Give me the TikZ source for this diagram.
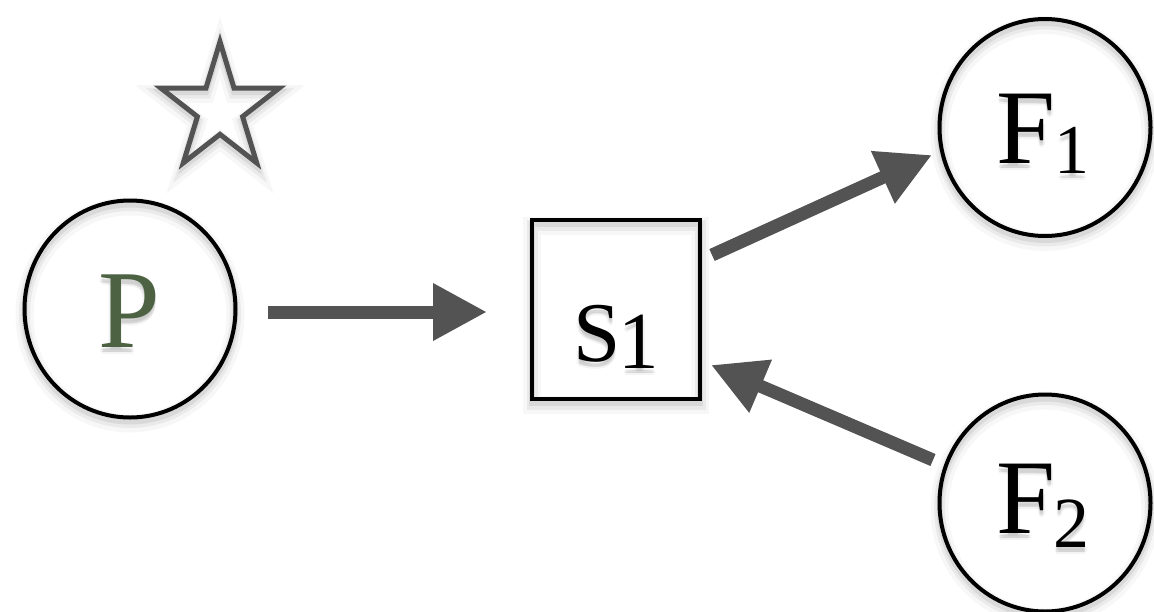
\documentclass[tikz,border=0pt]{standalone}
\usepackage{fontspec}
\setmainfont{Liberation Serif}
\usetikzlibrary{arrows.meta,shapes.geometric}

\definecolor{flowgray}{RGB}{83,83,83}
\definecolor{pgreen}{RGB}{76,98,66}

% soft drop shadow under a label: faint offset copies, then the label itself
\newcommand\haze[1]{%
  \makebox[0pt][l]{\pgfsetfillopacity{0.045}\color{black}%
    \makebox[0pt][l]{\raisebox{-3pt}{#1}}%
    \makebox[0pt][l]{\raisebox{-5pt}{#1}}%
    \makebox[0pt][l]{\raisebox{-7pt}{#1}}%
    \makebox[0pt][l]{\hspace*{-1.5pt}\raisebox{-5pt}{#1}}%
    \makebox[0pt][l]{\hspace*{1.5pt}\raisebox{-5pt}{#1}}%
    \pgfsetfillopacity{1}}%
  #1}

\tikzset{
  softshadow/.style={
    preaction={draw=black,draw opacity=0.03,line width=18pt,transform canvas={yshift=-6pt}},
    preaction={draw=black,draw opacity=0.05,line width=11pt,transform canvas={yshift=-5pt}},
    preaction={draw=black,draw opacity=0.07,line width=6pt,transform canvas={yshift=-4pt}}},
  ring/.style={ellipse,draw=black,line width=4pt,minimum width=211pt,minimum height=217pt,
    inner sep=0pt,outer sep=0pt,softshadow},
  stepbox/.style={rectangle,draw=black,line width=4pt,minimum width=168pt,minimum height=179pt,
    inner sep=0pt,outer sep=0pt,softshadow},
  tag/.style={anchor=base west,inner sep=0pt,outer sep=0pt,font=\fontsize{106}{106}\selectfont},
  flow/.style={draw=flowgray,line width=13pt,-{Triangle[length=54pt,width=54pt]}},
  starline/.style={draw=flowgray,line width=5pt,softshadow}
}

\begin{document}
\begin{tikzpicture}[x=1pt,y=-1pt]
\useasboundingbox (0,0) rectangle (1154,611);

% outlined star above P
\path[starline] (220,41.7) -- (234.0,88.0) -- (279.3,88.0) -- (242.6,116.6)
  -- (256.7,162.9) -- (220,134.3) -- (183.3,162.9) -- (197.4,116.6)
  -- (160.7,88.0) -- (206.0,88.0) -- cycle;

% shapes
\node[ring] (P) at (130,309) {};
\node[stepbox] (S) at (616,309.5) {};
\node[ring] (F1) at (1045,127.5) {};
\node[ring] (F2) at (1045,503) {};

% labels
\node[tag,text=pgreen,font=\fontsize{111}{111}\selectfont] (Pt) at (98.2,347) {\haze{P}};
\node[tag,font=\fontsize{85}{85}\selectfont] (St) at (573.4,361.5)
  {\haze{S\kern-2pt\raisebox{-7pt}{\fontsize{81}{81}\selectfont 1}}};
\node[tag] (F1t) at (996.7,163.5)
  {\haze{F\kern-1.5pt\raisebox{-10pt}{\fontsize{70}{70}\selectfont 1}}};
\node[tag] (F2t) at (996.7,533.5)
  {\haze{F\kern-2pt\raisebox{-14pt}{\fontsize{72}{72}\selectfont 2}}};

% flows
\draw[flow] ([shift={(32.5,3)}]P.east) -- ([shift={(-45,2.5)}]S.west);
\draw[flow] ([shift={(12,-54.5)}]S.east) -- ([shift={(-7.5,27.5)}]F1.west);
\draw[flow] ([shift={(-6.5,-43)}]F2.west) -- ([shift={(11,55.5)}]S.east);
\end{tikzpicture}
\end{document}
